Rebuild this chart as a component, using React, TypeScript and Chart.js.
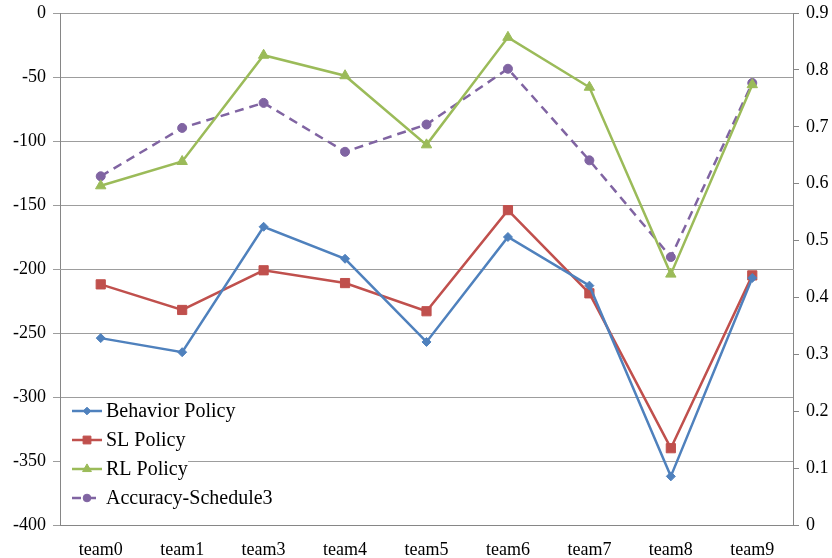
import { useEffect, useRef } from 'react';
import { Chart, registerables } from 'chart.js';
import { drawPoint } from 'chart.js/helpers';

Chart.register(...registerables);

// Team labels along the category axis
const teams = ['team0', 'team1', 'team3', 'team4', 'team5', 'team6', 'team7', 'team8', 'team9'];

// Reward per policy (left axis)
const behaviorPolicy = [-254, -265, -167, -192, -257, -175, -213, -362, -207];
const slPolicy = [-212, -232, -201, -211, -233, -154, -219, -340, -205];
const rlPolicy = [-135, -116, -33, -49, -103, -19, -58, -204, -56];

// Accuracy (right axis)
const accuracySchedule3 = [0.613, 0.698, 0.742, 0.656, 0.704, 0.802, 0.641, 0.471, 0.777];

const FONT_FAMILY = "'Liberation Serif', 'Times New Roman', serif";
const tickFont = { family: FONT_FAMILY, size: 18 };

const BLUE = '#4F81BD';
const RED = '#C0504D';
const GREEN = '#9BBB59';
const PURPLE = '#8064A2';

// Legend drawn inside the plot, lower-left corner, on a white box
const insideLegend = {
  id: 'insideLegend',
  afterDatasetsDraw(chart: any) {
    const { ctx, chartArea } = chart;
    const x0 = chartArea.left;
    const bottom = chartArea.bottom;
    ctx.save();
    ctx.fillStyle = '#ffffff';
    ctx.fillRect(x0 + 1, bottom - 126, 127, 124);
    chart.data.datasets.forEach((ds: any, i: number) => {
      const y = bottom - 114 + i * 29;
      ctx.save();
      ctx.strokeStyle = ds.borderColor;
      ctx.lineWidth = ds.borderWidth;
      ctx.setLineDash(ds.borderDash || []);
      ctx.beginPath();
      ctx.moveTo(x0 + 12, y);
      ctx.lineTo(x0 + 42, y);
      ctx.stroke();
      ctx.restore();
      ctx.save();
      ctx.fillStyle = ds.pointBackgroundColor;
      ctx.strokeStyle = ds.pointBorderColor;
      ctx.lineWidth = 1;
      drawPoint(ctx, { pointStyle: ds.pointStyle, radius: ds.pointRadius * 0.85, rotation: 0, borderWidth: 1 }, x0 + 27, y);
      ctx.restore();
      ctx.fillStyle = '#000000';
      ctx.font = `20px ${FONT_FAMILY}`;
      ctx.textBaseline = 'middle';
      ctx.textAlign = 'left';
      ctx.fillText(ds.label, x0 + 46, y + 1);
    });
    ctx.restore();
  },
};

export default function App() {
  const canvasRef = useRef<HTMLCanvasElement | null>(null);

  useEffect(() => {
    if (!canvasRef.current) return;
    const lineDefaults = {
      borderWidth: 2.5,
      tension: 0,
      pointBorderWidth: 1,
      fill: false,
    };
    const chart = new Chart(canvasRef.current, {
      type: 'line',
      data: {
        labels: teams,
        datasets: [
          {
            ...lineDefaults,
            label: 'Behavior Policy',
            data: behaviorPolicy,
            yAxisID: 'y',
            borderColor: BLUE,
            backgroundColor: BLUE,
            pointBackgroundColor: BLUE,
            pointBorderColor: BLUE,
            pointStyle: 'rectRot',
            pointRadius: 4.5,
          },
          {
            ...lineDefaults,
            label: 'SL Policy',
            data: slPolicy,
            yAxisID: 'y',
            borderColor: RED,
            backgroundColor: RED,
            pointBackgroundColor: RED,
            pointBorderColor: RED,
            pointStyle: 'rect',
            pointRadius: 6.5,
          },
          {
            ...lineDefaults,
            label: 'RL Policy',
            data: rlPolicy,
            yAxisID: 'y',
            borderColor: GREEN,
            backgroundColor: GREEN,
            pointBackgroundColor: GREEN,
            pointBorderColor: GREEN,
            pointStyle: 'triangle',
            pointRadius: 6,
          },
          {
            ...lineDefaults,
            label: 'Accuracy-Schedule3',
            data: accuracySchedule3,
            yAxisID: 'y1',
            borderColor: PURPLE,
            backgroundColor: PURPLE,
            pointBackgroundColor: PURPLE,
            pointBorderColor: PURPLE,
            borderDash: [9, 6],
            pointStyle: 'circle',
            pointRadius: 4.5,
          },
        ],
      },
      options: {
        responsive: false,
        animation: false,
        devicePixelRatio: 1,
        layout: { padding: { top: 13, left: 0, right: 0, bottom: 0 } },
        plugins: {
          legend: { display: false },
          tooltip: { enabled: false },
        },
        scales: {
          x: {
            offset: true,
            grid: { display: false },
            border: { display: true, color: '#868686', width: 1 },
            ticks: { color: '#000000', font: tickFont, padding: 6, maxRotation: 0 },
            afterFit(scale: any) {
              scale.height = 33;
              scale.paddingLeft = 0;
              scale.paddingRight = 0;
            },
          },
          y: {
            position: 'left',
            min: -400,
            max: 0,
            ticks: { stepSize: 50, color: '#000000', font: tickFont, padding: 7 },
            grid: { color: '#9d9d9d', lineWidth: 1, tickLength: 7 },
            border: { display: true, color: '#868686', width: 1 },
            afterFit(scale: any) {
              scale.width = 60;
              scale.paddingTop = 0;
              scale.paddingBottom = 0;
            },
          },
          y1: {
            position: 'right',
            min: 0,
            max: 0.9,
            ticks: {
              stepSize: 0.1,
              color: '#000000',
              font: tickFont,
              padding: 7,
              callback: (v: any) => (Math.abs(Number(v)) < 1e-9 ? '0' : Number(v).toFixed(1)),
            },
            grid: { drawOnChartArea: false, color: '#868686', lineWidth: 1, tickLength: 6 },
            border: { display: true, color: '#868686', width: 1 },
            afterFit(scale: any) {
              scale.width = 39;
              scale.paddingTop = 0;
              scale.paddingBottom = 0;
            },
          },
        },
      },
      plugins: [insideLegend],
    });
    return () => chart.destroy();
  }, []);

  return (
    <div style={{ position: 'fixed', left: 0, top: 0, width: 832, height: 558, background: '#ffffff' }}>
      <canvas ref={canvasRef} width={832} height={558} style={{ display: 'block', width: 832, height: 558 }} />
    </div>
  );
}
